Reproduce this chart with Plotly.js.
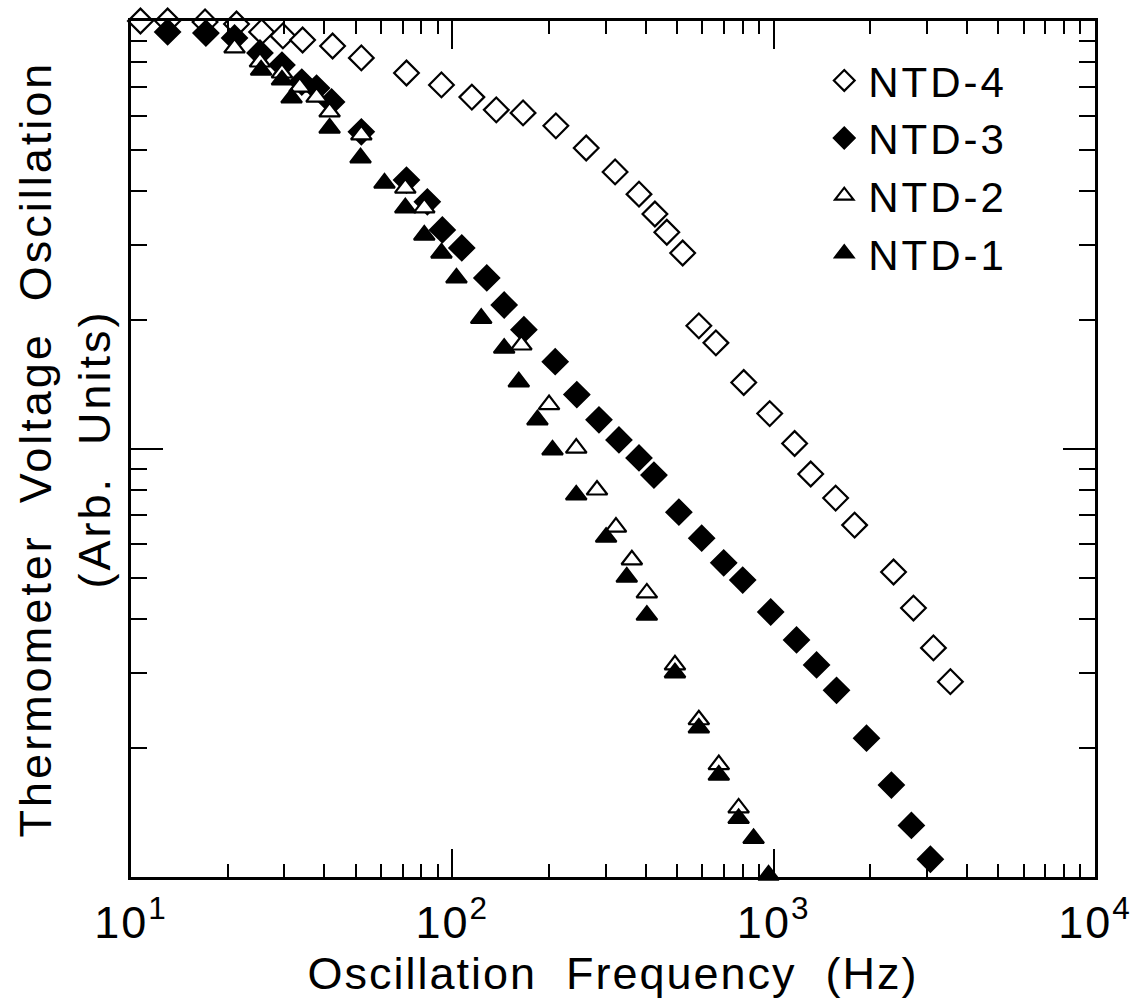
<!DOCTYPE html>
<html>
<head>
<meta charset="utf-8">
<script src="https://cdn.plot.ly/plotly-3.0.1.min.js"></script>
<style>
html,body{margin:0;padding:0;background:#fff;}
#chart{width:1136px;height:1003px;}
.xtitle{letter-spacing:2px;}
.ytitle{letter-spacing:3px;}
.xtick text{letter-spacing:2px;}
.legendtext{letter-spacing:3px;}
</style>
</head>
<body>
<div id="chart"></div>
<script>
// Oscillation frequency (Hz) and thermometer voltage oscillation (arb. units)
const ntd4_freq = [10.7, 13.0, 17.0, 21.3, 25.5, 29.7, 34.2, 42.4, 52.1, 72.0, 92.5, 115, 137, 166, 210, 261, 321, 381, 427, 465, 521, 585, 661, 807, 972, 1162, 1304, 1559, 1786, 2361, 2723, 3142, 3548];
const ntd4_amp  = [1.00, 1.00, 0.995, 0.984, 0.943, 0.923, 0.903, 0.874, 0.820, 0.756, 0.709, 0.664, 0.620, 0.610, 0.569, 0.505, 0.444, 0.394, 0.354, 0.321, 0.287, 0.194, 0.177, 0.143, 0.121, 0.103, 0.0874, 0.0768, 0.0664, 0.0516, 0.0425, 0.0343, 0.0286];

const ntd3_freq = [13.0, 17.1, 21.0, 25.2, 29.5, 34.0, 37.8, 42.1, 52.1, 72.0, 83.6, 93.1, 107, 128, 145, 167, 209, 244, 286, 330, 381, 424, 507, 597, 699, 801, 979, 1178, 1360, 1569, 1945, 2325, 2683, 3074];
const ntd3_amp  = [0.943, 0.937, 0.913, 0.842, 0.789, 0.720, 0.697, 0.647, 0.551, 0.425, 0.378, 0.325, 0.295, 0.251, 0.217, 0.190, 0.160, 0.134, 0.117, 0.105, 0.0953, 0.0869, 0.0712, 0.0619, 0.0542, 0.0494, 0.0416, 0.0358, 0.0313, 0.0273, 0.0211, 0.0164, 0.0132, 0.0110];

const ntd2_freq = [21.0, 25.2, 29.5, 33.5, 37.8, 41.5, 52.1, 71.4, 81.8, 164, 200, 243, 282, 323, 362, 403, 493, 585, 675, 778];
const ntd2_amp  = [0.865, 0.802, 0.756, 0.701, 0.664, 0.613, 0.542, 0.407, 0.366, 0.175, 0.127, 0.1005, 0.0802, 0.0657, 0.0551, 0.0461, 0.0313, 0.0233, 0.0183, 0.0145];

const ntd1_freq = [25.4, 29.5, 31.6, 41.5, 51.8, 61.5, 71.4, 81.8, 92.5, 103, 123, 145, 161, 184, 205, 243, 301, 349, 403, 493, 585, 675, 778, 866, 964];
const ntd1_amp  = [0.768, 0.728, 0.661, 0.562, 0.479, 0.418, 0.366, 0.316, 0.287, 0.251, 0.202, 0.172, 0.1435, 0.117, 0.0995, 0.0781, 0.0622, 0.0502, 0.0409, 0.0300, 0.0223, 0.0173, 0.0137, 0.0123, 0.0101];

const seriesNames = ['NTD-4', 'NTD-3', 'NTD-2', 'NTD-1'];
const xTickVals = [10, 100, 1000, 10000];
const xTickText = ['10<sup>1</sup>', '10<sup>2</sup>', '10<sup>3</sup>', '10<sup>4</sup>'];
const yTickVals = [0.01, 0.1, 1];

function minorTicks(lo, hi) {
  const v = [];
  for (let e = lo; e < hi; e++) for (let m = 2; m <= 9; m++) v.push(m * Math.pow(10, e));
  return v;
}

const FONT = 'Liberation Sans, Arial, Helvetica, sans-serif';

function mk(name, x, y, symbol, filled, size) {
  return {
    type: 'scatter', mode: 'markers', name: name, x: x, y: y, cliponaxis: false,
    marker: {symbol: symbol, size: size, color: filled ? '#000' : '#fff',
             line: {color: '#000', width: 2.2}}
  };
}

const data = [
  mk(seriesNames[0], ntd4_freq, ntd4_amp, 'diamond', false, 19),
  mk(seriesNames[1], ntd3_freq, ntd3_amp, 'diamond', true, 19),
  mk(seriesNames[2], ntd2_freq, ntd2_amp, 'triangle-up', false, 18),
  mk(seriesNames[3], ntd1_freq, ntd1_amp, 'triangle-up', true, 18)
];

const axisCommon = {
  showgrid: false, zeroline: false, showline: true, linecolor: '#000', linewidth: 3,
  mirror: 'allticks', ticks: 'inside', tickcolor: '#000', tickwidth: 2, ticklen: 28
};

const layout = {
  width: 1136, height: 1003,
  margin: {l: 131, r: 41, t: 21, b: 126},
  paper_bgcolor: '#fff', plot_bgcolor: '#fff',
  font: {family: FONT, color: '#000', size: 44},
  showlegend: true,
  legend: {x: 0.715, y: 0.970, xanchor: 'left', yanchor: 'top', bgcolor: 'rgba(0,0,0,0)',
           font: {family: FONT, size: 42, color: '#000'}, tracegroupgap: 0, itemwidth: 38},
  xaxis: Object.assign({}, axisCommon, {
    type: 'log', range: [1, 4],
    tickmode: 'array', tickvals: xTickVals, ticktext: xTickText,
    tickfont: {family: FONT, size: 45, color: '#000'},
    ticklabelstandoff: 4,
    minor: {tickmode: 'array', tickvals: minorTicks(1, 4), ticks: 'inside', ticklen: 13, tickwidth: 2, tickcolor: '#000'},
    title: {text: 'Oscillation\u00a0\u00a0Frequency\u00a0\u00a0(Hz)', font: {family: FONT, size: 45, color: '#000'}, standoff: 8}
  }),
  yaxis: Object.assign({}, axisCommon, {
    type: 'log', range: [-2, 0], ticklen: 32,
    tickmode: 'array', tickvals: yTickVals, showticklabels: false,
    minor: {tickmode: 'array', tickvals: minorTicks(-2, 0), ticks: 'inside', ticklen: 16, tickwidth: 2, tickcolor: '#000'},
    title: {text: 'Thermometer\u00a0\u00a0Voltage\u00a0\u00a0Oscillation<br>(Arb.\u00a0\u00a0Units)', font: {family: FONT, size: 45, color: '#000'}, standoff: 4}
  })
};

Plotly.newPlot('chart', data, layout, {staticPlot: true, displayModeBar: false});
</script>
</body>
</html>
